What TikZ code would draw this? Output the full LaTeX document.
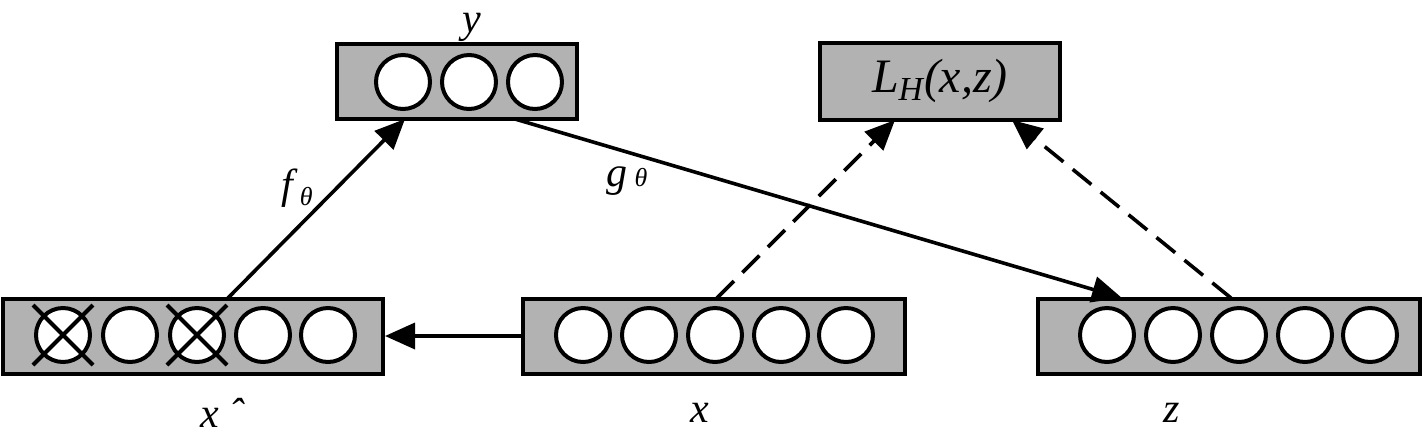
\documentclass[tikz,border=0pt]{standalone}
\usepackage{fontspec}
\setmainfont{Liberation Serif}
\usetikzlibrary{arrows.meta}
\tikzset{
  layer/.style={draw, line width=2pt, fill=black!30, inner sep=0pt},
  unit/.style={draw, circle, line width=2pt, fill=white, minimum size=27pt, inner sep=0pt},
  conn/.style={line width=1.8pt, -{Triangle[length=15pt,width=13pt]}},
  lossconn/.style={conn, dash pattern=on 12pt off 6pt},
  lbl/.style={font=\fontsize{21}{24}\selectfont\itshape, inner sep=0pt}
}
\newcommand\subth{\fontsize{13}{14}\selectfont θ}
\begin{document}
\begin{tikzpicture}[x=0.5pt, y=-0.5pt]
			%%%%% START %%%%%
			\useasboundingbox (0,0) rectangle (1425,436);
			
			% layers
			\node[layer, minimum width=190pt, minimum height=37.5pt] (xc) at (193,336) {};
			\node[layer, minimum width=191pt, minimum height=37.5pt] (xin) at (714,336) {};
			\node[layer, minimum width=191pt, minimum height=37.5pt] (zout) at (1229,336) {};
			\node[layer, minimum width=120pt, minimum height=37.5pt] (hid) at (457,81) {};
			\node[layer, minimum width=120pt, minimum height=38.5pt, lbl, font=\fontsize{24}{26}\selectfont\itshape] (loss) at (940,81) {L\textsubscript{H}(x,z)};
			
			% corrupted input
			\node[unit] (c1) at (63,335) {};
			\node[unit] (c2) at (130,335) {};
			\node[unit] (c3) at (197,335) {};
			\node[unit] (c4) at (263,335) {};
			\node[unit] (c5) at (328,335) {};
			\draw[line width=2pt] (c1.center) ++(-30,30) -- ++(60,-60);
			\draw[line width=2pt] (c1.center) ++(-30,-30) -- ++(60,60);
			\draw[line width=2pt] (c3.center) ++(-30,30) -- ++(60,-60);
			\draw[line width=2pt] (c3.center) ++(-30,-30) -- ++(60,60);
			
			% input
			\node[unit] (i1) at (583,335) {};
			\node[unit] (i2) at (649,335) {};
			\node[unit] (i3) at (715,335) {};
			\node[unit] (i4) at (781,335) {};
			\node[unit] (i5) at (846,335) {};
			
			% reconstruction
			\node[unit] (r1) at (1107,335) {};
			\node[unit] (r2) at (1173,335) {};
			\node[unit] (r3) at (1239,335) {};
			\node[unit] (r4) at (1305,335) {};
			\node[unit] (r5) at (1370,335) {};
			
			% hidden
			\node[unit] (h1) at (403,82) {};
			\node[unit] (h2) at (469,82) {};
			\node[unit] (h3) at (535,82) {};
			
			% names
			\node[lbl] (ylbl) at (472,27) {y};
			\node[lbl] (xclbl) at (222,413) {x ˆ};
			\node[lbl] (xlbl) at (700,413) {x};
			\node[lbl] (zlbl) at (1172,413) {z};
			\node[lbl] (flbl) at (297,188) {f\,\raisebox{-0.35ex}{\subth}};
			\node[lbl] (glbl) at (627,181) {g\,\raisebox{0ex}{\subth}};
			
			% arrows
			\draw[conn] (xin.west) -- (xc.east);
			\coordinate (fs) at (228,298);
			\coordinate (fe) at (405,119);
			\draw[conn] (fs) -- (fe);
			\coordinate (gs) at (515,119);
			\coordinate (ge) at (1122,298);
			\draw[conn] (gs) -- (ge);
			\coordinate (ds1) at (717,298);
			\coordinate (de1) at (895,120);
			\coordinate (ds2) at (1231,298);
			\coordinate (de2) at (1012,120);
			\draw[lossconn] (ds1) -- (de1);
			\draw[lossconn] (ds2) -- (de2);
			%%%%% END %%%%%
\end{tikzpicture}
\end{document}
